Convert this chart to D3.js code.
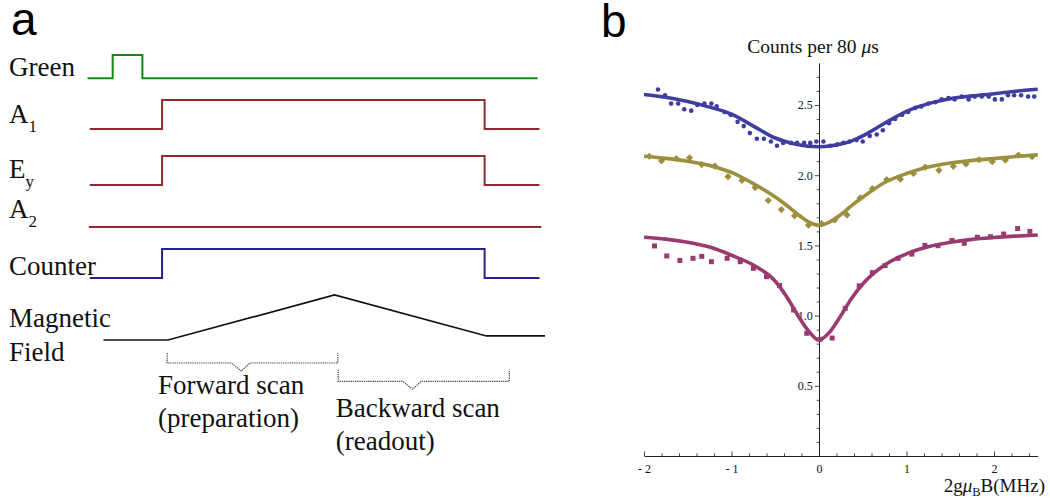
<!DOCTYPE html>
<html>
<head>
<meta charset="utf-8">
<script src="https://cdn.jsdelivr.net/npm/d3@7"></script>
<style>
  body { margin: 0; background: #fff; }
  svg { display: block; background: #fff; }
  text { font-family: "Liberation Serif", "Times New Roman", Times, serif; fill: #111; }
  .panel-tag { font-family: "Liberation Sans", Arial, Helvetica, sans-serif; fill: #000; }
</style>
</head>
<body>
<svg id="fig" width="1050" height="499"></svg>
<script>
// ---------- panel a: pulse sequence (time in arbitrary units, 0–100) ----------
const channelNames = ["Green", "A", "E", "A", "Counter"];
const channelSubs  = ["", "1", "y", "2", ""];

const greenTimes    = [0, 5.5, 12, 98.4];
const greenLevels   = [0, 1, 0, 0];
const a1Times       = [0.5, 16.3, 86.8, 98.8];
const a1Levels      = [0, 1, 0, 0];
const eyTimes       = [0.5, 16.3, 86.8, 98.8];
const eyLevels      = [0, 1, 0, 0];
const a2Times       = [0.3, 99.2];
const a2Levels      = [0, 0];
const counterTimes  = [0.5, 16.3, 86.8, 98.8];
const counterLevels = [0, 1, 0, 0];
const fieldTimes    = [3.5, 17.6, 54, 87.2, 100];
const fieldLevels   = [0, 0, 1, 0.09, 0.09];

const scanNames  = ["Forward scan", "Backward scan"];
const scanNotes  = ["(preparation)", "(readout)"];
const scanStarts = [17.4, 54.8];
const scanEnds   = [54.7, 92.2];

// ---------- panel b: counts vs. 2gμB·B (MHz) ----------
const blueX = [-1.84, -1.76, -1.69, -1.61, -1.54, -1.46, -1.39, -1.31, -1.23, -1.17,
               -1.08, -1.01, -0.93, -0.86, -0.79, -0.71, -0.63, -0.55, -0.48, -0.41,
               -0.32, -0.25, -0.17, -0.10, -0.03, 0.05, 0.13, 0.21, 0.28, 0.35,
               0.43, 0.50, 0.58, 0.66, 0.73, 0.80, 0.87, 0.95, 1.02, 1.10,
               1.17, 1.25, 1.33, 1.40, 1.48, 1.55, 1.63, 1.71, 1.78, 1.86,
               1.94, 2.01, 2.09, 2.16, 2.23, 2.31, 2.39, 2.46];
const blueY = [2.61, 2.57, 2.51, 2.51, 2.47, 2.46, 2.50, 2.51, 2.51, 2.49,
               2.45, 2.43, 2.38, 2.35, 2.30, 2.26, 2.26, 2.24, 2.21, 2.23,
               2.23, 2.23, 2.23, 2.23, 2.24, 2.24, 2.21, 2.22, 2.23, 2.24,
               2.25, 2.24, 2.28, 2.29, 2.32, 2.37, 2.40, 2.43, 2.45, 2.48,
               2.49, 2.51, 2.52, 2.54, 2.55, 2.54, 2.56, 2.54, 2.56, 2.56,
               2.56, 2.54, 2.54, 2.57, 2.57, 2.57, 2.56, 2.56];

const oliveX = [-1.94, -1.80, -1.63, -1.48, -1.34, -1.19, -1.04, -0.88, -0.73, -0.58,
                -0.43, -0.28, -0.12, 0.03, 0.18, 0.32, 0.47, 0.61, 0.775, 0.93,
                1.08, 1.215, 1.37, 1.535, 1.68, 1.83, 1.98, 2.13, 2.28, 2.435];
const oliveY = [2.135, 2.102, 2.118, 2.124, 2.076, 2.065, 1.99, 1.963, 1.912, 1.82,
                1.755, 1.711, 1.645, 1.655, 1.681, 1.717, 1.838, 1.904, 1.968, 1.972,
                2.013, 2.058, 2.035, 2.063, 2.08, 2.11, 2.096, 2.108, 2.144, 2.132];

const magentaX = [-1.88, -1.74, -1.59, -1.44, -1.34, -1.23, -1.05, -0.90, -0.75, -0.60,
                  -0.45, -0.29, -0.14, 0.01, 0.15, 0.30, 0.46, 0.61, 0.755, 0.905,
                  1.06, 1.21, 1.36, 1.52, 1.66, 1.81, 1.96, 2.11, 2.27, 2.41];
const magentaY = [1.496, 1.425, 1.393, 1.408, 1.422, 1.384, 1.408, 1.384, 1.337, 1.277,
                  1.214, 1.04, 0.874, 0.831, 0.84, 1.052, 1.212, 1.306, 1.356, 1.408,
                  1.438, 1.50, 1.498, 1.535, 1.515, 1.558, 1.562, 1.581, 1.62, 1.60];

// fitted dip profiles, sampled along the field axis
const fitX       = [-2, -1.75, -1.5, -1.25, -1, -0.75, -0.5, -0.375, -0.25, -0.125, 0,
                    0.125, 0.25, 0.375, 0.5, 0.75, 1, 1.25, 1.5, 1.75, 2, 2.25, 2.5];
const blueFit    = [2.575, 2.555, 2.525, 2.485, 2.435, 2.35, 2.265, 2.238, 2.218, 2.206, 2.203,
                    2.208, 2.222, 2.245, 2.28, 2.37, 2.455, 2.51, 2.545, 2.565, 2.58, 2.598, 2.612];
const oliveFit   = [2.135, 2.12, 2.10, 2.07, 2.02, 1.94, 1.845, 1.788, 1.725, 1.67, 1.643,
                    1.668, 1.72, 1.785, 1.843, 1.948, 2.012, 2.058, 2.087, 2.105, 2.118, 2.133, 2.145];
const magentaFit = [1.558, 1.545, 1.522, 1.488, 1.43, 1.36, 1.245, 1.14, 1.01, 0.895, 0.826,
                    0.885, 1.0, 1.125, 1.225, 1.36, 1.44, 1.49, 1.522, 1.543, 1.556, 1.566, 1.574];

const xTickValues = [-2, -1, 0, 1, 2];
const xTickLabels = ["- 2", "- 1", "0", "1", "2"];
const yTickValues = [0.5, 1.0, 1.5, 2.0, 2.5];
const yTickLabels = ["0.5", "1.0", "1.5", "2.0", "2.5"];

// ======================================================================
const svg = d3.select("#fig");

// panel tags
svg.append("text").attr("class", "panel-tag").attr("x", 11).attr("y", 35)
  .attr("font-size", 46).text("a");
svg.append("text").attr("class", "panel-tag").attr("x", 601).attr("y", 36.5)
  .attr("font-size", 46).text("b");

// ---------------- panel a ----------------
const t = d3.scaleLinear().domain([0, 100]).range([87.5, 545]);

const rows = [
  { times: greenTimes,   levels: greenLevels,   low: 78.3,  amp: 23.3, color: "#128a12", labelY: 76 },
  { times: a1Times,      levels: a1Levels,      low: 129,   amp: 29,   color: "#922b2b", labelY: 123.3 },
  { times: eyTimes,      levels: eyLevels,      low: 185,   amp: 29,   color: "#922b2b", labelY: 178.3 },
  { times: a2Times,      levels: a2Levels,      low: 227,   amp: 29,   color: "#922b2b", labelY: 218.3 },
  { times: counterTimes, levels: counterLevels, low: 278,   amp: 29,   color: "#24248e", labelY: 275 }
];

const panelA = svg.append("g");

rows.forEach((row, i) => {
  const pts = row.times.map((tm, k) => [tm, row.levels[k]]);
  const lvl = d3.scaleLinear().domain([0, 1]).range([row.low, row.low - row.amp]);
  const line = d3.line().x(d => t(d[0])).y(d => lvl(d[1])).curve(d3.curveStepAfter);
  panelA.append("path").attr("d", line(pts))
    .attr("fill", "none").attr("stroke", row.color).attr("stroke-width", 2);

  const lab = panelA.append("text").attr("x", 9).attr("y", row.labelY).attr("font-size", 27)
    .text(channelNames[i]);
  if (channelSubs[i]) {
    lab.append("tspan").attr("font-size", 17).attr("dy", 8.4).text(channelSubs[i]);
  }
});

// magnetic field ramp
const fieldLvl = d3.scaleLinear().domain([0, 1]).range([340, 295]);
const fieldLine = d3.line().x(d => t(d[0])).y(d => fieldLvl(d[1]));
panelA.append("path")
  .attr("d", fieldLine(fieldTimes.map((tm, k) => [tm, fieldLevels[k]])))
  .attr("fill", "none").attr("stroke", "#111").attr("stroke-width", 1.7);
panelA.append("text").attr("x", 9).attr("y", 326.7).attr("font-size", 27).text("Magnetic");
panelA.append("text").attr("x", 9).attr("y", 361).attr("font-size", 27).text("Field");

// scan braces and their captions
const braceTop  = [353, 369.5];
const braceLine = [363, 381.3];
const textX     = [158, 335.7];
const textY     = [394, 417];
scanNames.forEach((name, i) => {
  const x0 = t(scanStarts[i]), x1 = t(scanEnds[i]);
  const xn = x0 + (x1 - x0) * 0.435;
  const p = d3.path();
  p.moveTo(x0, braceTop[i]);
  p.lineTo(x0, braceLine[i]);
  p.lineTo(xn - 10, braceLine[i]);
  p.lineTo(xn, braceLine[i] + 8);
  p.lineTo(xn + 8.5, braceLine[i]);
  p.lineTo(x1, braceLine[i]);
  p.lineTo(x1, braceTop[i]);
  panelA.append("path").attr("d", p.toString())
    .attr("fill", "none").attr("stroke", "#444").attr("stroke-width", 1.2)
    .attr("stroke-dasharray", "1.3,0.9");
  panelA.append("text").attr("x", textX[i]).attr("y", textY[i]).attr("font-size", 27).text(name);
  panelA.append("text").attr("x", textX[i]).attr("y", textY[i] + 33).attr("font-size", 27).text(scanNotes[i]);
});

// ---------------- panel b ----------------
const x = d3.scaleLinear().domain([-2, 2.5]).range([644, 1037.75]);
const y = d3.scaleLinear().domain([0, 2.8]).range([456, 62.9]);
const panelB = svg.append("g");

// x axis (ticks point upward, Mathematica style)
const xMinor = d3.range(-20, 25, 2).map(v => v / 10).filter(v => !xTickValues.includes(v));
const xAxisMinor = panelB.append("g").attr("transform", `translate(0,${y(0)})`)
  .call(d3.axisBottom(x).tickValues(xMinor).tickSizeInner(-2.6).tickSizeOuter(0).tickFormat(""));
const xAxis = panelB.append("g").attr("transform", `translate(0,${y(0)})`)
  .call(d3.axisBottom(x).tickValues(xTickValues).tickSizeInner(-4.6).tickSizeOuter(0)
    .tickPadding(8).tickFormat((d, i) => xTickLabels[i]));

// y axis through x = 0
const yMinor = d3.range(1, 28).map(v => v / 10).filter(v => !yTickValues.some(m => Math.abs(m - v) < 1e-9));
const yAxisMinor = panelB.append("g").attr("transform", `translate(${x(0)},0)`)
  .call(d3.axisLeft(y).tickValues(yMinor).tickSizeInner(2.3).tickSizeOuter(0).tickFormat(""));
const yAxis = panelB.append("g").attr("transform", `translate(${x(0)},0)`)
  .call(d3.axisLeft(y).tickValues(yTickValues).tickSizeInner(4.2).tickSizeOuter(0)
    .tickPadding(2).tickFormat((d, i) => yTickLabels[i]));

[xAxis, xAxisMinor, yAxis, yAxisMinor].forEach(g => {
  g.selectAll("path.domain").attr("stroke", "#222").attr("stroke-width", 1);
  g.selectAll(".tick line").attr("stroke", "#333").attr("stroke-width", 0.9);
  g.selectAll("text").attr("font-family", "Liberation Serif, Times New Roman, serif")
    .attr("font-size", 12).attr("fill", "#222");
});
xAxisMinor.select("path.domain").remove();
yAxisMinor.select("path.domain").remove();

// axis titles
const yTitle = panelB.append("text").attr("x", 813).attr("y", 52.7)
  .attr("text-anchor", "middle").attr("font-size", 19.5);
yTitle.append("tspan").text("Counts per 80 ");
yTitle.append("tspan").attr("font-style", "italic").text("μ");
yTitle.append("tspan").text("s");

const xTitle = panelB.append("text").attr("x", 1045).attr("y", 491.7)
  .attr("text-anchor", "end").attr("font-size", 19);
xTitle.append("tspan").text("2g");
xTitle.append("tspan").attr("font-style", "italic").text("μ");
xTitle.append("tspan").attr("font-size", 12.5).attr("dy", 4).text("B");
xTitle.append("tspan").attr("dy", -4).text("B(MHz)");

// series
const series = [
  { xs: blueX,    ys: blueY,    fit: blueFit,    color: "#3e3e9f", shape: "circle" },
  { xs: oliveX,   ys: oliveY,   fit: oliveFit,   color: "#9c8f3e", shape: "diamond" },
  { xs: magentaX, ys: magentaY, fit: magentaFit, color: "#9a3b70", shape: "square" }
];

const fitLine = d3.line().x(d => x(d[0])).y(d => y(d[1])).curve(d3.curveMonotoneX);

series.forEach(s => {
  const pts = s.xs.map((v, i) => [v, s.ys[i]]);
  const g = panelB.append("g").attr("fill", s.color);
  if (s.shape === "circle") {
    g.selectAll("circle").data(pts).join("circle")
      .attr("cx", d => x(d[0])).attr("cy", d => y(d[1])).attr("r", 2.3);
  } else if (s.shape === "diamond") {
    const h = 3.6;
    g.selectAll("path").data(pts).join("path")
      .attr("d", d => {
        const cx = x(d[0]), cy = y(d[1]);
        return `M${cx},${cy - h}L${cx + h},${cy}L${cx},${cy + h}L${cx - h},${cy}Z`;
      });
  } else {
    const a = 5;
    g.selectAll("rect").data(pts).join("rect")
      .attr("x", d => x(d[0]) - a / 2).attr("y", d => y(d[1]) - a / 2)
      .attr("width", a).attr("height", a);
  }
  panelB.append("path").attr("d", fitLine(fitX.map((v, i) => [v, s.fit[i]])))
    .attr("fill", "none").attr("stroke", s.color).attr("stroke-width", 3.6)
    .attr("stroke-linecap", "butt").attr("stroke-linejoin", "round");
});
</script>
</body>
</html>
